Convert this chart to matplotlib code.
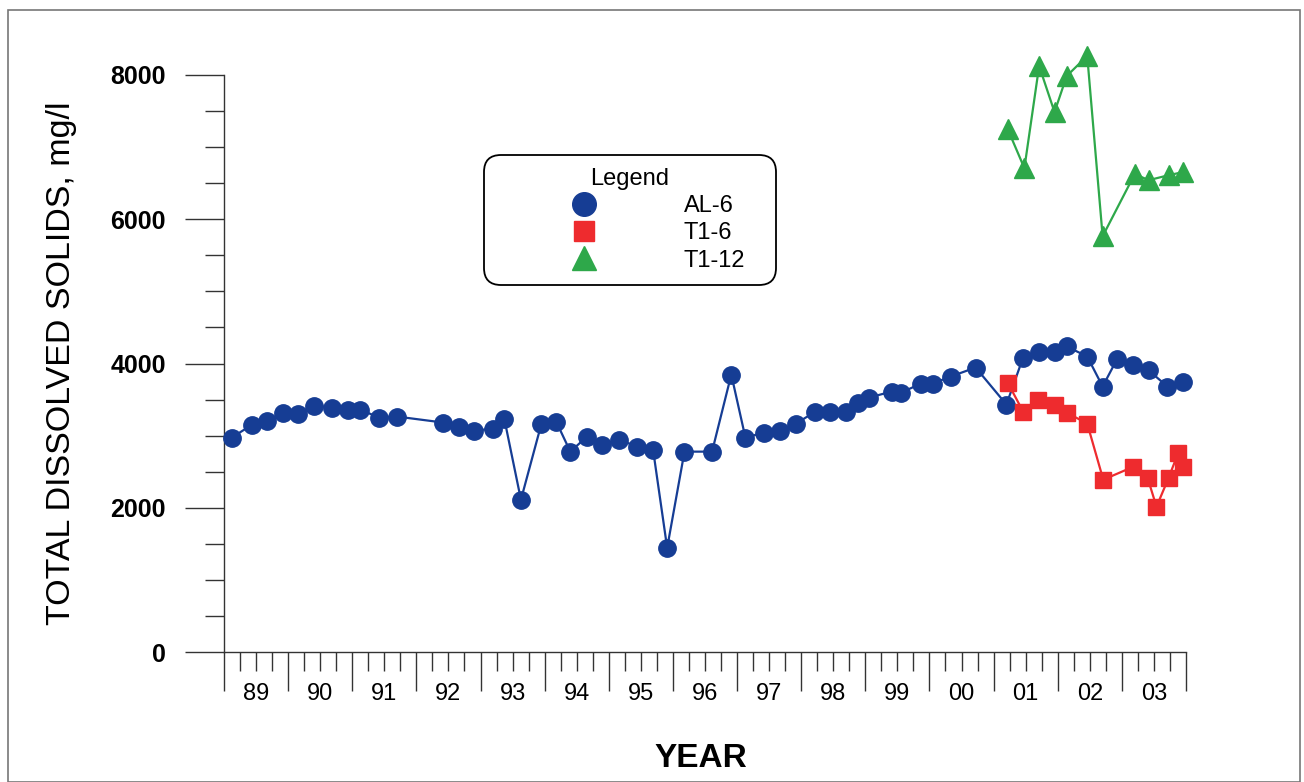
"""
Total dissolved solids at wells AL-6, T1-6 and T1-12, 1989-2003.
"""
import matplotlib
matplotlib.use('Agg')
import matplotlib.pyplot as plt
import matplotlib.ticker as mticker
from matplotlib.patches import Rectangle
import numpy as np

# ── Data ──────────────────────────────────────────────────────────────────────
al6_year = [1989.12, 1989.44, 1989.67, 1989.92, 1990.15, 1990.40, 1990.68, 1990.93,
            1991.12, 1991.42, 1991.70, 1992.42, 1992.67, 1992.90, 1993.20, 1993.37,
            1993.63, 1993.95, 1994.18, 1994.40, 1994.66, 1994.90, 1995.16, 1995.44,
            1995.69, 1995.91, 1996.18, 1996.61, 1996.91, 1997.13, 1997.42, 1997.67,
            1997.92, 1998.22, 1998.45, 1998.70, 1998.89, 1999.06, 1999.41, 1999.56,
            1999.87, 2000.05, 2000.33, 2000.72, 2001.20, 2001.46, 2001.71, 2001.95,
            2002.14, 2002.46, 2002.70, 2002.93, 2003.18, 2003.42, 2003.71, 2003.96]
al6_tds = [2972, 3153, 3208, 3319, 3306, 3417, 3389, 3361,
           3361, 3250, 3264, 3181, 3125, 3069, 3097, 3236,
           2111, 3167, 3194, 2778, 2986, 2875, 2944, 2847,
           2806, 1444, 2778, 2778, 3847, 2972, 3042, 3069,
           3167, 3333, 3333, 3333, 3458, 3528, 3611, 3597,
           3722, 3722, 3819, 3944, 3431, 4083, 4153, 4153,
           4236, 4097, 3681, 4069, 3986, 3903, 3681, 3750]

t16_year = [2001.22, 2001.46, 2001.70, 2001.95, 2002.14, 2002.46, 2002.71,
            2003.18, 2003.40, 2003.54, 2003.73, 2003.88, 2003.95]
t16_tds = [3736, 3333, 3500, 3431, 3319, 3167, 2389,
           2569, 2417, 2014, 2417, 2764, 2569]

t112_year = [2001.22, 2001.48, 2001.71, 2001.95, 2002.14, 2002.46, 2002.70,
             2003.20, 2003.42, 2003.73, 2003.95]
t112_tds = [7250, 6708, 8125, 7486, 7986, 8264, 5764,
            6625, 6542, 6611, 6653]

years = list(range(1989, 2004))
year_labels = [f"{y % 100:02d}" for y in years]

# ── Style ─────────────────────────────────────────────────────────────────────
plt.rcParams['font.family'] = ['Liberation Sans', 'DejaVu Sans']
BLUE = '#163d94'
RED = '#ee2b2e'
GREEN = '#2ea84a'
AXIS = '#333333'

W, H = 1304, 782
fig = plt.figure(figsize=(W / 100, H / 100), dpi=100)
ax = fig.add_axes([224 / W, 1 - 652 / H, (1186 - 224) / W, (652 - 75) / H])

ax.plot(al6_year, al6_tds, color=BLUE, lw=1.6, marker='o', ms=12.5,
        mec=BLUE, mfc=BLUE, label='AL-6', zorder=3, clip_on=False)
ax.plot(t16_year, t16_tds, color=RED, lw=1.6, marker='s', ms=11,
        mec=RED, mfc=RED, label='T1-6', zorder=4, clip_on=False)
ax.plot(t112_year, t112_tds, color=GREEN, lw=1.6, marker='^', ms=14,
        mec=GREEN, mfc=GREEN, label='T1-12', zorder=4, clip_on=False)

# Axes limits and spines
ax.set_xlim(years[0], years[-1] + 1)
ax.set_ylim(0, 8000)
for side in ('top', 'right'):
    ax.spines[side].set_visible(False)
for side in ('left', 'bottom'):
    ax.spines[side].set_linewidth(1.0)
    ax.spines[side].set_color(AXIS)

# Y ticks: long major every 2000, short minor every 500
ax.yaxis.set_major_locator(mticker.MultipleLocator(2000))
ax.yaxis.set_minor_locator(mticker.MultipleLocator(500))
ax.tick_params(axis='y', which='major', length=28, width=1.0, color=AXIS,
               labelsize=18, pad=14)
ax.tick_params(axis='y', which='minor', length=14, width=1.0, color=AXIS)
for lab in ax.get_yticklabels():
    lab.set_fontweight('bold')

# X ticks: long major at year boundaries, short minor at quarters,
# year labels sit under the mid-year minor tick
major_x = years + [years[-1] + 1]
minor_x = [y + q for y in years for q in (0.25, 0.5, 0.75)]
minor_lab = [lab if q == 0.5 else '' for lab in year_labels for q in (0.25, 0.5, 0.75)]
ax.xaxis.set_major_locator(mticker.FixedLocator(major_x))
ax.xaxis.set_major_formatter(mticker.NullFormatter())
ax.xaxis.set_minor_locator(mticker.FixedLocator(minor_x))
ax.xaxis.set_minor_formatter(mticker.FixedFormatter(minor_lab))
ax.tick_params(axis='x', which='major', length=28, width=1.0, color=AXIS)
ax.tick_params(axis='x', which='minor', length=14, width=1.0, color=AXIS,
               labelsize=17, pad=8)

ax.set_ylabel('TOTAL DISSOLVED SOLIDS, mg/l', fontsize=24.5)
ax.yaxis.set_label_coords((77 - 224) / 962, 0.5)
ax.set_xlabel('YEAR', fontsize=24, fontweight='bold')
ax.xaxis.set_label_coords((701 - 224) / 962, (652 - 743) / 577)

# Legend box with rounded corners, stretched to the box width
leg = ax.legend(loc='upper left',
                bbox_to_anchor=(484 / W, 1 - 278 / H, 292 / W, 123 / H),
                bbox_transform=fig.transFigure, borderaxespad=0, mode='expand',
                title='Legend', fontsize=17, title_fontsize=17,
                handlelength=7.4, handletextpad=0.5, borderpad=0.55,
                labelspacing=0.22, fancybox=True, frameon=True, framealpha=1,
                edgecolor='black', numpoints=1)
leg.get_frame().set_linewidth(1.3)
leg.get_frame().set_boxstyle('round,pad=0,rounding_size=0.7')
for h, ms in zip(leg.legend_handles, (17, 15, 17)):
    h.set_linestyle('none')
    h.set_markersize(ms)

# Thin gray frame around the whole figure
fig.patches.append(Rectangle((8 / W, 0), (1300 - 8) / W, 1 - 10 / H,
                             transform=fig.transFigure, fill=False,
                             edgecolor='#777777', linewidth=1.2))

fig.savefig('out.png', dpi=100)
plt.close(fig)
